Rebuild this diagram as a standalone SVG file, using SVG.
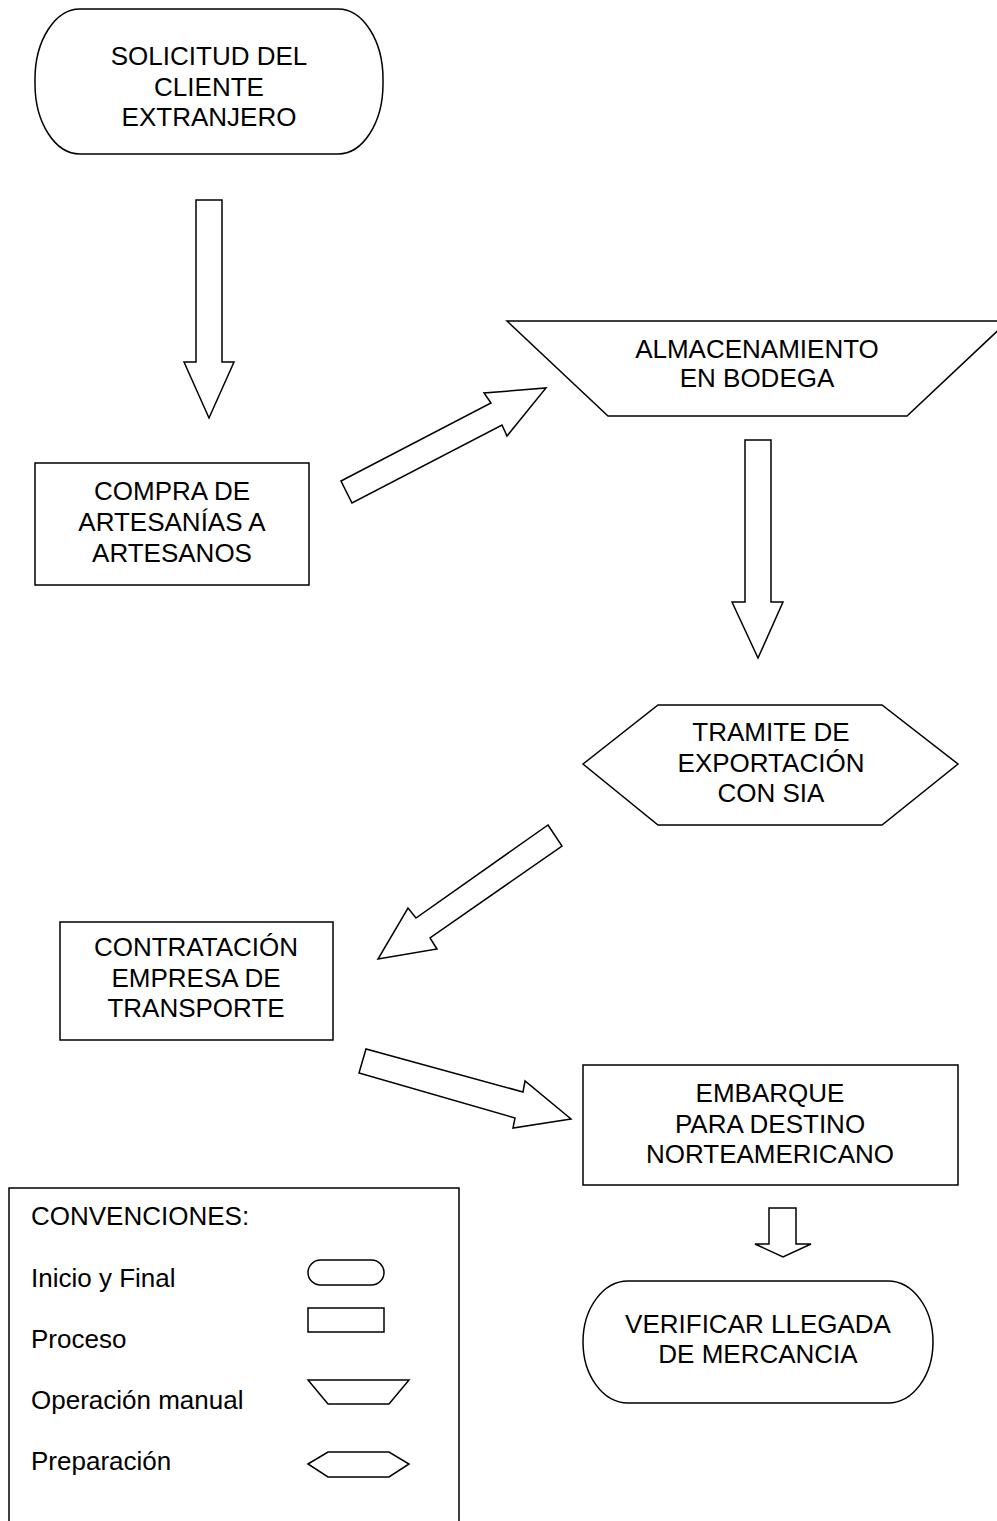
<svg xmlns="http://www.w3.org/2000/svg" width="997" height="1521" viewBox="0 0 997 1521">
<style>
.s{fill:#fff;stroke:#000;stroke-width:1.5;stroke-linejoin:miter}
.t{font-family:"Liberation Sans",Arial,sans-serif;font-size:26px;fill:#000;text-anchor:middle}
.l{font-family:"Liberation Sans",Arial,sans-serif;font-size:26px;fill:#000}
</style>
<rect width="997" height="1521" fill="#fff"/>
<g id="connectors">
<polygon class="s" points="196,200 222,200 222,362 234,362 209,418 184,362 196,362"/>
<polygon class="s" points="341,481 491,403 484,393 546,388 507,436 502,425 352,503"/>
<polygon class="s" points="745,440 771,440 771,602 783,602 758,658 732,602 745,602"/>
<polygon class="s" points="548,825 562,846 430,938 437,949 378,959 408,908 416,918"/>
<polygon class="s" points="366,1049 359,1073 515,1118 513,1128 571,1119 525,1081 523,1092"/>
<polygon class="s" points="769,1208 796,1208 796,1244 811,1244 783,1257 755,1244 769,1244"/>
</g>
<g id="n1">
<rect class="s" x="35" y="9" width="348" height="145" rx="45" ry="70"/>
<text class="t" x="209" y="65">SOLICITUD DEL</text>
<text class="t" x="209" y="96">CLIENTE</text>
<text class="t" x="209" y="126">EXTRANJERO</text>
</g>
<g id="n2">
<rect class="s" x="35" y="463" width="274" height="122"/>
<text class="t" x="172" y="500">COMPRA DE</text>
<text class="t" x="172" y="531">ARTESANÍAS A</text>
<text class="t" x="172" y="562">ARTESANOS</text>
</g>
<g id="n3">
<polygon class="s" points="507,321 1008,321 907,416 608,416"/>
<text class="t" x="757" y="358">ALMACENAMIENTO</text>
<text class="t" x="757" y="387">EN BODEGA</text>
</g>
<g id="n4">
<polygon class="s" points="583,764 658,705 882,705 958,764 882,825 658,825"/>
<text class="t" x="771" y="741">TRAMITE DE</text>
<text class="t" x="771" y="772">EXPORTACIÓN</text>
<text class="t" x="771" y="802">CON SIA</text>
</g>
<g id="n5">
<rect class="s" x="60" y="922" width="273" height="118"/>
<text class="t" x="196" y="956">CONTRATACIÓN</text>
<text class="t" x="196" y="987">EMPRESA DE</text>
<text class="t" x="196" y="1017">TRANSPORTE</text>
</g>
<g id="n6">
<rect class="s" x="583" y="1065" width="375" height="120"/>
<text class="t" x="770" y="1102">EMBARQUE</text>
<text class="t" x="770" y="1133">PARA DESTINO</text>
<text class="t" x="770" y="1163">NORTEAMERICANO</text>
</g>
<g id="n7">
<rect class="s" x="583" y="1281" width="350" height="122" rx="45" ry="61"/>
<text class="t" x="758" y="1333">VERIFICAR LLEGADA</text>
<text class="t" x="758" y="1363">DE MERCANCIA</text>
</g>
<g id="legend">
<path class="s" d="M9,1530 V1188 H459 V1530"/>
<text class="l" x="31" y="1225">CONVENCIONES:</text>
<text class="l" x="31" y="1287">Inicio y Final</text>
<text class="l" x="31" y="1348">Proceso</text>
<text class="l" x="31" y="1409">Operación manual</text>
<text class="l" x="31" y="1470">Preparación</text>
<rect class="s" x="308" y="1260" width="76" height="25" rx="12.5" ry="12.5"/>
<rect class="s" x="308" y="1308" width="76" height="24"/>
<polygon class="s" points="308,1380 409,1380 389,1404 328,1404"/>
<polygon class="s" points="308,1464 328,1452 389,1452 409,1464 389,1477 328,1477"/>
</g>
</svg>
